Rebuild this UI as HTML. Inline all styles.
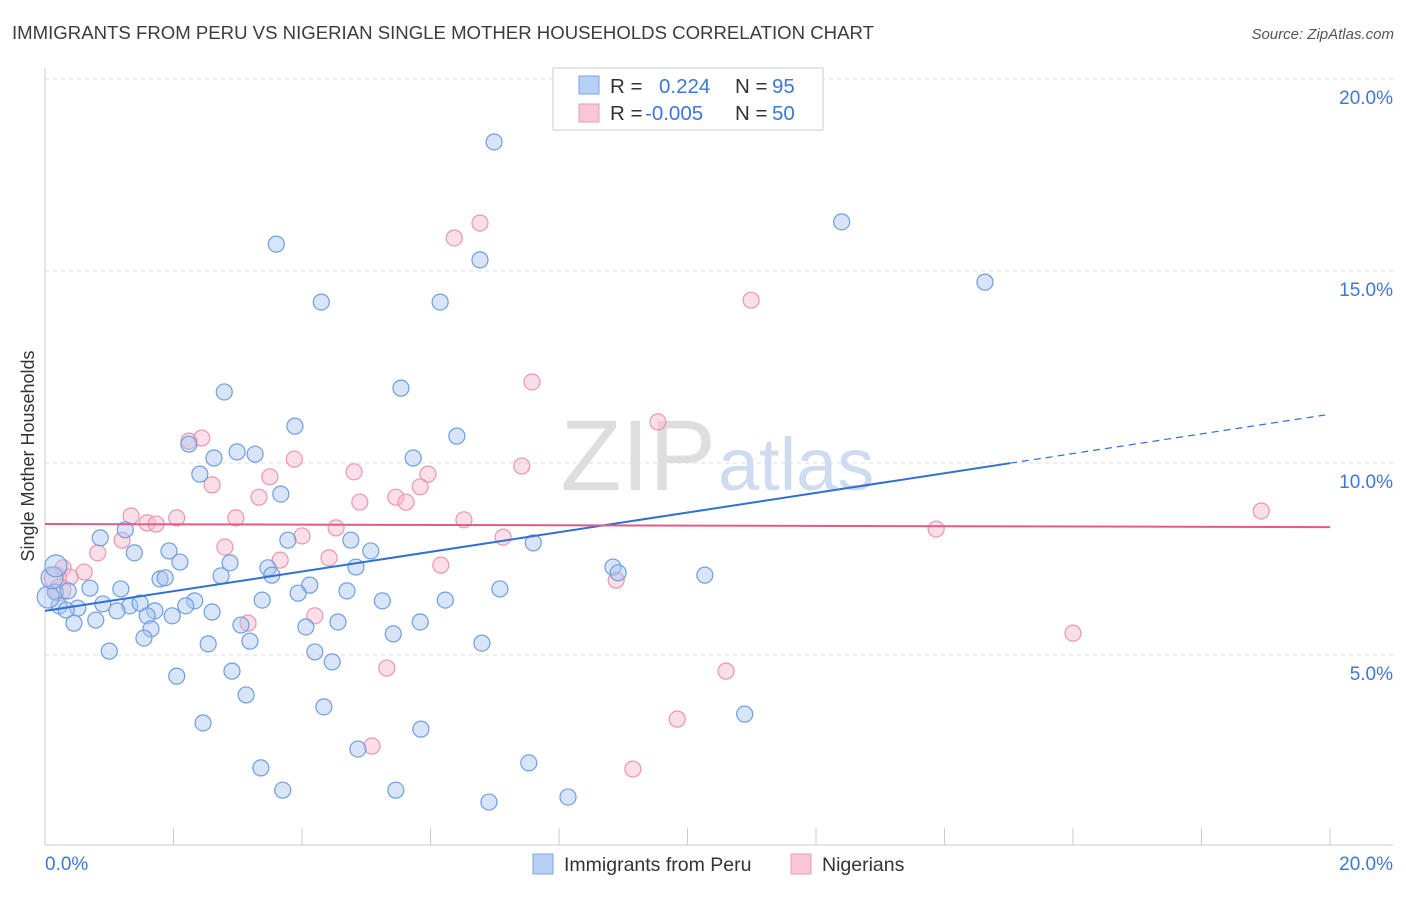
<!DOCTYPE html>
<html><head><meta charset="utf-8"><style>
body{margin:0;background:#fff;font-family:"Liberation Sans",sans-serif;}
svg text{font-family:"Liberation Sans",sans-serif;}
</style></head><body>
<svg id="c" width="1406" height="892" viewBox="0 0 1406 892">
<text x="12" y="39" font-size="18.6" fill="#3c3c3c">IMMIGRANTS FROM PERU VS NIGERIAN SINGLE MOTHER HOUSEHOLDS CORRELATION CHART</text>
<text x="1394" y="39" font-size="15" fill="#555" font-style="italic" text-anchor="end">Source: ZipAtlas.com</text>
<text x="0" y="0" transform="translate(34,456) rotate(-90)" font-size="18" fill="#333" text-anchor="middle">Single Mother Households</text>
<g id="grid"></g>
<text x="716" y="490" font-size="100" fill="#dedede" text-anchor="end" font-family="Liberation Serif">ZIP</text>
<text x="718" y="490" font-size="74" fill="#cfdcf0">atlas</text>
<g id="pts"></g>
<g id="lines"></g>
<g>
<rect x="553" y="68" width="270" height="62" fill="#fff" stroke="#ccc"/>
<rect x="579" y="76" width="20" height="18" fill="#b8d0f4" stroke="#7aa4e0"/>
<rect x="579" y="104" width="20" height="18" fill="#f9c6d6" stroke="#ec9ab3"/>
<text x="610" y="93" font-size="20.5" fill="#333">R = </text><text x="659" y="93" font-size="20.5" fill="#3c78d8">0.224</text>
<text x="735" y="93" font-size="20.5" fill="#333">N = </text><text x="772" y="93" font-size="20.5" fill="#3c78d8">95</text>
<text x="610" y="120" font-size="20.5" fill="#333">R = </text><text x="645" y="120" font-size="20.5" fill="#3c78d8">-0.005</text>
<text x="735" y="120" font-size="20.5" fill="#333">N = </text><text x="772" y="120" font-size="20.5" fill="#3c78d8">50</text>
</g>
<g>
<rect x="533" y="854" width="20" height="20" fill="#b8d0f4" stroke="#7aa4e0"/>
<text x="564" y="871" font-size="19.5" fill="#333">Immigrants from Peru</text>
<rect x="791" y="854" width="20" height="20" fill="#f9c6d6" stroke="#ec9ab3"/>
<text x="822" y="871" font-size="19.5" fill="#333">Nigerians</text>
</g>
</svg>
<script>
const blueX=[6.99,12.40,3.60,6.77,14.63,4.30,6.15,2.79,5.54,3.89,6.41,2.24,2.99,3.27,2.63,5.73,2.41,3.67,1.25,0.86,3.78,4.76,1.39,1.93,5.07,7.60,2.10,2.88,3.47,4.84,8.84,3.53,8.92,10.27,1.79,1.87,2.74,4.12,0.70,1.18,7.08,0.16,0.36,3.94,4.70,3.38,5.25,6.23,2.33,0.90,2.19,1.32,1.48,0.22,0.51,0.33,1.12,1.71,2.60,1.98,1.59,0.79,0.45,4.56,4.06,3.05,1.65,5.84,5.42,1.54,3.19,2.54,6.80,4.20,1.00,4.47,2.91,2.05,3.13,4.34,2.46,10.89,5.85,4.87,7.53,3.36,3.70,5.46,8.14,6.91,0.05,0.11,0.17];
const blueY=[18.36,16.28,15.70,15.29,14.71,14.19,14.19,11.85,11.95,10.96,10.70,10.49,10.29,10.23,10.13,10.13,9.71,9.19,8.26,8.05,7.99,7.99,7.66,7.71,7.71,7.92,7.42,7.40,7.27,7.29,7.29,7.08,7.14,7.08,6.98,7.01,7.06,6.82,6.74,6.72,6.72,6.64,6.67,6.61,6.67,6.43,6.41,6.43,6.41,6.33,6.28,6.28,6.35,6.28,6.22,6.17,6.15,6.15,6.12,6.02,6.02,5.91,5.83,5.86,5.73,5.78,5.68,5.86,5.55,5.44,5.36,5.29,5.31,5.08,5.10,4.82,4.58,4.45,3.96,3.65,3.23,3.46,3.07,2.55,2.19,2.06,1.48,1.48,1.30,1.17,6.51,7.01,7.32];
const pinkX=[6.77,6.37,10.99,7.58,9.54,2.24,2.44,3.88,3.50,4.81,5.96,7.42,2.60,3.33,5.46,4.90,5.62,5.84,1.34,2.05,2.97,6.52,1.59,1.73,4.53,13.87,18.93,1.20,4.00,7.13,2.80,0.82,4.42,3.66,6.16,0.28,0.61,0.39,8.89,4.20,3.16,16.00,5.32,10.60,9.84,5.09,9.15,0.16,0.23];
const pinkY=[16.25,15.86,14.24,12.11,11.07,10.57,10.65,10.10,9.64,9.77,9.71,9.92,9.43,9.11,9.11,8.98,8.98,9.38,8.62,8.57,8.57,8.52,8.44,8.41,8.31,8.28,8.75,7.99,8.10,8.07,7.81,7.66,7.53,7.47,7.34,7.27,7.16,7.03,6.95,6.02,5.83,5.57,4.66,4.58,3.33,2.63,2.03,7.01,6.69];
const bigBlue=[90,91,92], bigPink=[47,48];
const yTicks=[5,10,15,20];
const xTickLabels=["0.0%","20.0%"];
const blueTrend=[6.15,0.256], pinkTrend=[8.41,-0.004];
const X=v=>45+v*64.25, Y=v=>847-v*38.4;
const NS="http://www.w3.org/2000/svg";
function mk(t,a,p){const e=document.createElementNS(NS,t);for(const k in a)e.setAttribute(k,a[k]);p.appendChild(e);return e;}
const grid=document.getElementById('grid');
yTicks.forEach(v=>{
 const l=mk('line',{x1:45,x2:1393,y1:Y(v),y2:Y(v),stroke:'#dcdcdc','stroke-dasharray':'4,4'},grid);
 
 
 const t=mk('text',{x:1393,y:Y(v)+25,'font-size':19,fill:'#3c78d8','text-anchor':'end'},grid);
 t.textContent=v.toFixed(1)+'%';
 
 
});
mk('line',{x1:45,x2:45,y1:68,y2:845,stroke:'#ccc'},grid);
mk('line',{x1:45,x2:1393,y1:845,y2:845,stroke:'#ccc'},grid);
for(let i=0;i<=10;i++){const t=mk('line',{x1:X(i*2),x2:X(i*2),y1:828,y2:845,stroke:'#ccc'},grid);
 
 }
[[0,45,'start'],[20,1393,'end']].forEach((d,i)=>{const t=mk('text',{x:d[1],y:870,'font-size':19,fill:'#3c78d8','text-anchor':d[2]},grid);t.textContent=xTickLabels[i];
 
 });
const pts=document.getElementById('pts');
function draw(xs,ys,big,fill,stroke,name){xs.forEach((x,i)=>{const c=mk('circle',{cx:X(x),cy:Y(ys[i]),r:big.includes(i)?11:8,fill:fill,'fill-opacity':0.45,stroke:stroke,'stroke-width':1.2},pts);
 
 });}
draw(pinkX,pinkY,bigPink,'#f7b8cc','#eb95b0','nigerians-point');
draw(blueX,blueY,bigBlue,'#a9c6f0','#6f9ee0','peru-point');
const lines=document.getElementById('lines');
let l=mk('line',{x1:X(0),y1:Y(blueTrend[0]),x2:X(15.02),y2:Y(blueTrend[0]+blueTrend[1]*15.02),stroke:'#2f6fd6','stroke-width':2},lines);


l=mk('line',{x1:X(15.02),y1:Y(blueTrend[0]+blueTrend[1]*15.02),x2:X(20),y2:Y(blueTrend[0]+blueTrend[1]*20),stroke:'#2f6fd6','stroke-width':1.2,'stroke-dasharray':'7,5'},lines);


l=mk('line',{x1:X(0),y1:Y(pinkTrend[0]),x2:X(20),y2:Y(pinkTrend[0]+pinkTrend[1]*20),stroke:'#e05c88','stroke-width':2},lines);


</script>
</body></html>
